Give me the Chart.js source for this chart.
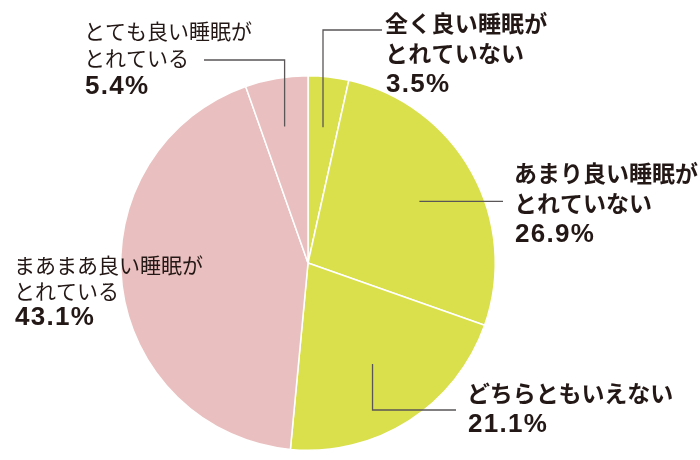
<!DOCTYPE html>
<html><head><meta charset="utf-8">
<script src="https://cdn.jsdelivr.net/npm/chart.js@4"></script>
<style>html,body{margin:0;padding:0;background:#fff}canvas{display:block}</style>
</head><body>
<canvas id="c" width="700" height="460"></canvas>
<script>
const categories = ['全く良い睡眠がとれていない','あまり良い睡眠がとれていない','どちらともいえない','まあまあ良い睡眠がとれている','とても良い睡眠がとれている'];
const categoryLines = [['全く良い睡眠が','とれていない'],['あまり良い睡眠が','とれていない'],['どちらともいえない'],['まあまあ良い睡眠が','とれている'],['とても良い睡眠が','とれている']];
const values = [3.5, 26.9, 21.1, 43.1, 5.4];
const colors = ['#d9e04b','#d9e04b','#d9e04b','#eabfbf','#eabfbf'];

// label layout (text anchor, line spacing, font, leader route)
const labelLayout = [
  {x:386, y:23, lh:30.5, size:23, adv:23.2, bold:true,  leader:{frac:0.73, route:'up', toY:30, toX:382}},
  {x:515, y:173, lh:30.5, size:23, adv:23, bold:true, leader:{frac:0.68, route:'right', toX:503}},
  {x:468, y:393, lh:31, size:23, adv:22.9, bold:true,   leader:{frac:0.64, route:'down', toY:410, toX:456}},
  {x:15,  y:265, lh:26, size:21, adv:21, bold:false,  leader:null},
  {x:85,  y:31,  lh:27.5, size:21, adv:21, bold:false, leader:{frac:0.74, route:'up', toY:60, toX:204}}
];

function drawFixed(ctx, text, x, y, adv){
  ctx.textAlign='center';
  [...text].forEach((ch,k)=>ctx.fillText(ch, x + adv*k + adv/2, y));
}
function drawSpaced(ctx, text, x, y, sp){
  ctx.textAlign='left';
  let cx = x;
  [...text].forEach(ch=>{ ctx.fillText(ch, cx, y); cx += ctx.measureText(ch).width + sp; });
}

const labelPlugin = {
  id:'labels',
  afterDatasetsDraw(chart){
    const ctx = chart.ctx;
    const meta = chart.getDatasetMeta(0);
    meta.data.forEach((arc,i)=>{
      const p = arc.getProps(['x','y','startAngle','endAngle','outerRadius'],true);
      const L = labelLayout[i];
      if(L.leader){
        const mid = (p.startAngle+p.endAngle)/2;
        const r = p.outerRadius*L.leader.frac;
        const sx = p.x + Math.cos(mid)*r, sy = p.y + Math.sin(mid)*r;
        ctx.save();
        ctx.strokeStyle='#5a5657'; ctx.lineWidth=1.3;
        ctx.beginPath();
        ctx.moveTo(sx,sy);
        if(L.leader.route==='right'){
          ctx.lineTo(L.leader.toX, sy);
        } else {
          ctx.lineTo(sx, L.leader.toY);
          ctx.lineTo(L.leader.toX, L.leader.toY);
        }
        ctx.stroke();
        ctx.restore();
      }
      ctx.save();
      ctx.fillStyle='#231815';
      ctx.textBaseline='middle';
      const fam = '"Noto Sans CJK JP", sans-serif';
      const lines = categoryLines[i];
      lines.forEach((t,k)=>{
        ctx.font = (L.bold?'bold ':'') + L.size+'px '+fam;
        drawFixed(ctx, t, L.x - 1, L.y + k*L.lh, L.adv);
      });
      ctx.font = 'bold 26px "Liberation Sans", Arial, sans-serif';
      drawSpaced(ctx, values[i].toFixed(1)+'%', L.x, L.y + lines.length*L.lh + 1, 1.3);
      ctx.restore();
    });
  }
};

new Chart(document.getElementById('c'),{
  type:'pie',
  data:{labels:categories, datasets:[{data:values, backgroundColor:colors, borderColor:'#ffffff', borderWidth:1.5}]},
  options:{
    responsive:false, animation:false,
    layout:{padding:{left:120,right:204,top:75,bottom:9}},
    plugins:{legend:{display:false}, tooltip:{enabled:false}}
  },
  plugins:[labelPlugin]
});
</script>
</body></html>
